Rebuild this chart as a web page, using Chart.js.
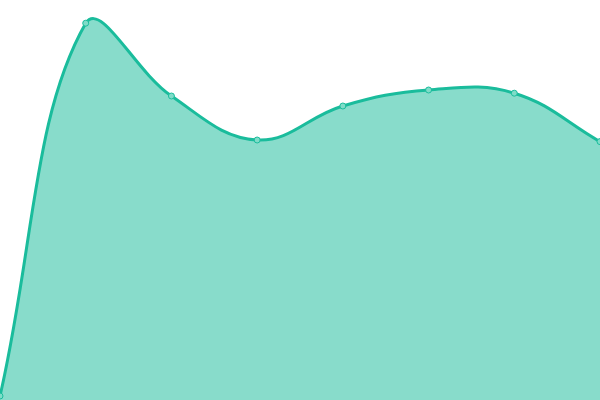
<!DOCTYPE html>
<html>
<head>
<meta charset="utf-8">
<script src="https://cdn.jsdelivr.net/npm/chart.js@4"></script>
<style>
  html, body { margin: 0; padding: 0; background: #fff; }
  #wrap { width: 600px; height: 400px; }
</style>
</head>
<body>
<div id="wrap"><canvas id="areaChart"></canvas></div>
<script>
// --- Data ---
const labels = ['1', '2', '3', '4', '5', '6', '7', '8'];
const values = [1, 94.2, 76, 65, 73.5, 77.5, 76.7, 64.6];

const lineColor = '#1abc9c';
const fillColor = 'rgba(26, 188, 156, 0.52)';

document.addEventListener('DOMContentLoaded', () => {
    const ctx = document.getElementById('areaChart').getContext('2d');
    new Chart(ctx, {
        type: 'line',
        data: {
            labels: labels,
            datasets: [{
                data: values,
                borderColor: lineColor,
                backgroundColor: fillColor,
                borderWidth: 3,
                fill: true,
                tension: 0.4,
                pointRadius: 3,
                pointBorderWidth: 1,
                pointBackgroundColor: '#7fdcc8',
                pointBorderColor: lineColor
            }]
        },
        options: {
            responsive: true,
            maintainAspectRatio: false,
            animation: false,
            layout: { padding: 0, autoPadding: false },
            plugins: {
                legend: { display: false },
                tooltip: { enabled: false }
            },
            scales: {
                x: { display: false },
                y: { display: false, min: 0, max: 100 }
            }
        }
    });
});
</script>
</body>
</html>
